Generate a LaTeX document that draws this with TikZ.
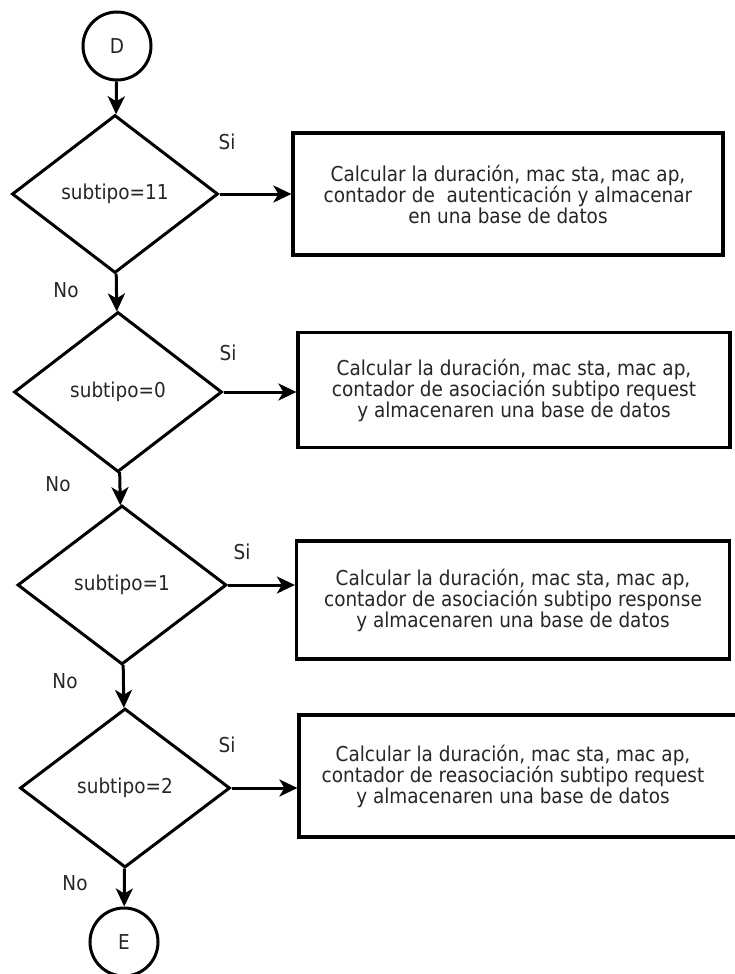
\documentclass[tikz,border=0pt]{standalone}
\usepackage{fontspec}
\setmainfont{DejaVu Sans Condensed}
\usetikzlibrary{shapes.geometric,arrows.meta}

\begin{document}
\begin{tikzpicture}[x=1pt,y=-1pt,
  every node/.style={font=\fontsize{20.5}{21}\selectfont, text=black!85},
  decision/.style={diamond, draw=black, line width=3pt, inner sep=0pt},
  connector/.style={circle, draw=black, line width=3pt, minimum size=68pt, inner sep=0pt},
  process/.style={rectangle, draw=black, line width=3.2pt, align=center, inner sep=0pt},
  flow/.style={draw=black, line width=3pt, -{Stealth[length=18pt, width=17pt, inset=5pt]}},
  branch/.style={inner sep=0pt}]

\useasboundingbox (0,0) rectangle (735,974);

% start and end connectors
\node[connector] (D) at (117,46) {D};
\node[connector] (E) at (124,942) {E};

% decisions
\node[decision, minimum width=206pt, minimum height=158pt] (d1) at (115,194) {subtipo=11};
\node[decision, minimum width=208pt, minimum height=160pt] (d2) at (118,392) {subtipo=0};
\node[decision, minimum width=209pt, minimum height=159pt] (d3) at (122,585) {subtipo=1};
\node[decision, minimum width=210pt, minimum height=159pt] (d4) at (125,788) {subtipo=2};

% processes
\node[process, minimum width=430pt, minimum height=122pt] (b1) at (508,194)
  {Calcular la duración, mac sta, mac ap,\\contador de\ \ autenticación y almacenar\\en una base de datos};
\node[process, minimum width=432pt, minimum height=115pt] (b2) at (514,390)
  {Calcular la duración, mac sta, mac ap,\\contador de asociación subtipo request\\y almacenaren una base de datos};
\node[process, minimum width=433pt, minimum height=118pt] (b3) at (513,600)
  {Calcular la duración, mac sta, mac ap,\\contador de asociación subtipo response\\y almacenaren una base de datos};
\node[process, minimum width=446pt, minimum height=122pt] (b4) at (522,776) {};
\node[align=center, inner sep=0pt] (t4) at (513,776)
  {Calcular la duración, mac sta, mac ap,\\contador de reasociación subtipo request\\y almacenaren una base de datos};

% main flow
\draw[flow] (D) -- (d1);
\draw[flow] (d1) -- (d2);
\draw[flow] (d2) -- (d3);
\draw[flow] (d3) -- (d4);
\draw[flow] (d4) -- (E);

% yes branches
\draw[flow] (d1.east) -- (d1.east -| b1.west);
\draw[flow] (d2.east) -- (d2.east -| b2.west);
\draw[flow] (d3.east) -- (d3.east -| b3.west);
\draw[flow] (d4.east) -- (d4.east -| b4.west);

% branch labels
\node[branch] (s1) at (227,142) {Si};
\node[branch] (s2) at (228,353) {Si};
\node[branch] (s3) at (242,552) {Si};
\node[branch] (s4) at (227,745) {Si};
\node[branch] (n1) at (66,290) {No};
\node[branch] (n2) at (58,484) {No};
\node[branch] (n3) at (65,681) {No};
\node[branch] (n4) at (75,883) {No};
\end{tikzpicture}
\end{document}
